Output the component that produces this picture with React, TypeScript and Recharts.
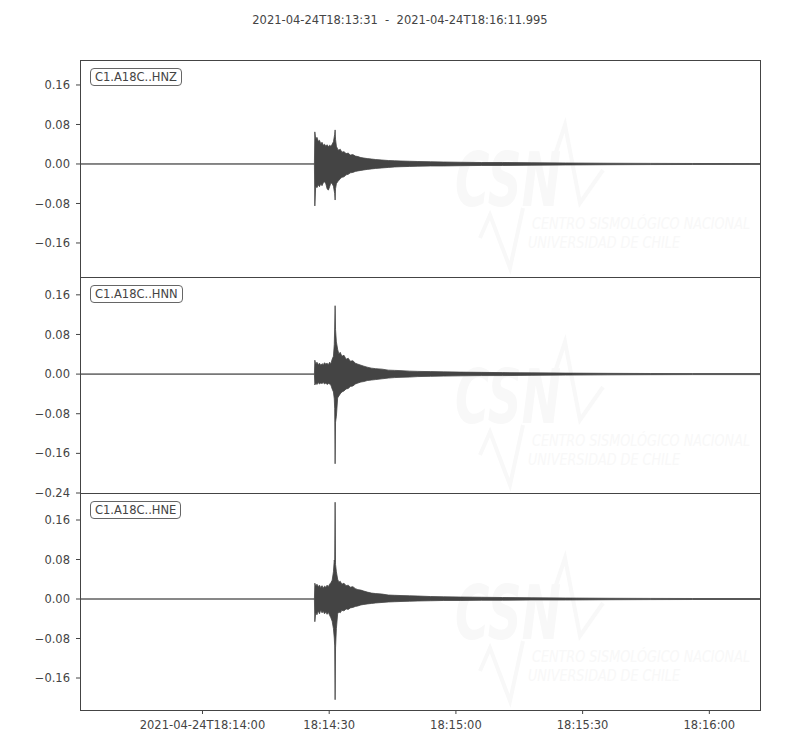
import React from "react";
import { Area, ComposedChart, XAxis, YAxis } from "recharts";

// seconds after 2021-04-24T18:13:31
const times = [
  0, 55.5, 55.6, 55.8, 56.1, 56.4, 56.7, 57.0, 57.3, 57.6, 57.9, 58.2, 58.5,
  58.8, 59.1, 59.4, 59.7, 60.0, 60.2, 60.3, 60.4, 60.5, 60.7, 61.0, 61.3, 61.6,
  62.0, 62.5, 63.0, 63.5, 64.0, 64.6, 65.2, 65.8, 66.5, 67.2, 68.0, 69.0, 70.0,
  71.5, 73.0, 74.5, 76.0, 78.0, 80.0, 83.0, 86.0, 90.0, 95.0, 100, 107, 115,
  125, 135, 145, 160.995,
];

const hnzHi = [
  0, 0, 0.065, 0.05, 0.054, 0.046, 0.048, 0.041, 0.044, 0.038, 0.04, 0.036,
  0.039, 0.035, 0.038, 0.036, 0.04, 0.045, 0.055, 0.06, 0.069, 0.05, 0.036,
  0.03, 0.028, 0.03, 0.024, 0.025, 0.021, 0.022, 0.018, 0.019, 0.016, 0.015,
  0.013, 0.012, 0.011, 0.01, 0.009, 0.008, 0.007, 0.0065, 0.006, 0.0055, 0.005,
  0.0045, 0.004, 0.0035, 0.003, 0.003, 0.0025, 0.002, 0.0015, 0.0012, 0.001,
  0.0008,
];
const hnzLo = [
  0, 0, -0.085, -0.045, -0.048, -0.042, -0.046, -0.04, -0.044, -0.038, -0.036,
  -0.04, -0.05, -0.053, -0.046, -0.038, -0.04, -0.045, -0.055, -0.06, -0.073,
  -0.05, -0.04, -0.036, -0.033, -0.03, -0.027, -0.026, -0.022, -0.021, -0.018,
  -0.017, -0.015, -0.014, -0.013, -0.012, -0.011, -0.01, -0.009, -0.008,
  -0.007, -0.006, -0.0055, -0.005, -0.0045, -0.004, -0.004, -0.0035, -0.003,
  -0.003, -0.0025, -0.002, -0.0015, -0.0012, -0.001, -0.0008,
];

const hnnHi = [
  0, 0, 0.028, 0.02, 0.024, 0.019, 0.022, 0.018, 0.021, 0.019, 0.023, 0.02,
  0.022, 0.019, 0.024, 0.021, 0.03, 0.036, 0.06, 0.095, 0.138, 0.09, 0.065,
  0.05, 0.04, 0.044, 0.036, 0.038, 0.03, 0.032, 0.026, 0.027, 0.022, 0.02,
  0.018, 0.016, 0.014, 0.012, 0.011, 0.01, 0.008, 0.0075, 0.007, 0.006, 0.0055,
  0.005, 0.0045, 0.004, 0.0035, 0.003, 0.0025, 0.002, 0.0015, 0.0012, 0.001,
  0.001,
];
const hnnLo = [
  0, 0, -0.022, -0.018, -0.021, -0.017, -0.02, -0.018, -0.019, -0.017, -0.02,
  -0.018, -0.021, -0.019, -0.02, -0.022, -0.03, -0.036, -0.05, -0.07, -0.181,
  -0.097, -0.085, -0.048, -0.044, -0.04, -0.036, -0.034, -0.03, -0.029, -0.025,
  -0.024, -0.02, -0.018, -0.016, -0.015, -0.013, -0.012, -0.011, -0.0095,
  -0.008, -0.007, -0.0065, -0.006, -0.005, -0.0045, -0.004, -0.0035, -0.003,
  -0.003, -0.0025, -0.002, -0.0015, -0.0012, -0.001, -0.001,
];

const hneHi = [
  0, 0, 0.032, 0.026, 0.03, 0.025, 0.028, 0.023, 0.027, 0.022, 0.026, 0.024,
  0.028, 0.025, 0.03, 0.033, 0.038, 0.055, 0.079, 0.075, 0.196, 0.07, 0.055,
  0.04, 0.034, 0.036, 0.03, 0.032, 0.027, 0.028, 0.024, 0.025, 0.021, 0.019,
  0.018, 0.016, 0.014, 0.012, 0.011, 0.01, 0.008, 0.0075, 0.007, 0.0065, 0.006,
  0.005, 0.0045, 0.004, 0.0035, 0.003, 0.0025, 0.002, 0.0015, 0.0012, 0.001,
  0.001,
];
const hneLo = [
  0, 0, -0.046, -0.028, -0.032, -0.024, -0.03, -0.022, -0.028, -0.025, -0.03,
  -0.026, -0.031, -0.027, -0.033, -0.038, -0.045, -0.06, -0.079, -0.095,
  -0.204, -0.099, -0.06, -0.03, -0.026, -0.028, -0.023, -0.024, -0.02, -0.021,
  -0.018, -0.017, -0.015, -0.014, -0.012, -0.011, -0.01, -0.009, -0.008,
  -0.007, -0.006, -0.0055, -0.005, -0.0045, -0.004, -0.0035, -0.003, -0.003,
  -0.0025, -0.0025, -0.002, -0.002, -0.0015, -0.0012, -0.001, -0.001,
];

const channels = ["C1.A18C..HNZ", "C1.A18C..HNN", "C1.A18C..HNE"];
const xTicks = [29, 59, 89, 119, 149];
const xTickLabels = [
  "2021-04-24T18:14:00",
  "18:14:30",
  "18:15:00",
  "18:15:30",
  "18:16:00",
];
const yTicksA = [-0.16, -0.08, 0, 0.08, 0.16];
const yTicksB = [-0.24, -0.16, -0.08, 0, 0.08, 0.16];

const FONT = "'DejaVu Sans', sans-serif";
const INK = "#444";
const FS = 11.5;

const fmtY = (v: number) =>
  v < 0 ? "\u2212" + Math.abs(v).toFixed(2) : v.toFixed(2);

const build = (hi: number[], lo: number[]) =>
  times.map((t, i) => ({ t, range: [lo[i], hi[i]] }));

function Watermark({ top }: { top: number }) {
  const c = "#f8f8f8";
  return (
    <svg
      width={340}
      height={160}
      style={{
        position: "absolute",
        left: 430,
        top,
        pointerEvents: "none",
        overflow: "visible",
      }}
    >
      <g transform="translate(10,0)">
        <text
          x={15}
          y={86}
          fontSize={74}
          fontWeight="bold"
          fontStyle="italic"
          fill={c}
          fontFamily={FONT}
          textLength={106}
          lengthAdjust="spacingAndGlyphs"
        >
          CSN
        </text>
        <polyline
          points="115,35 125,5 140,83 163,50"
          fill="none"
          stroke={c}
          strokeWidth={4}
        />
        <polyline
          points="40,118 50,95 70,148 83,88"
          fill="none"
          stroke={c}
          strokeWidth={4}
        />
        <text
          x={92}
          y={109}
          fontSize={16}
          fontStyle="italic"
          fill={c}
          fontFamily={FONT}
          textLength={218}
          lengthAdjust="spacingAndGlyphs"
        >
          CENTRO SISMOLÓGICO NACIONAL
        </text>
        <text
          x={88}
          y={128}
          fontSize={16}
          fontStyle="italic"
          fill={c}
          fontFamily={FONT}
          textLength={152}
          lengthAdjust="spacingAndGlyphs"
        >
          UNIVERSIDAD DE CHILE
        </text>
      </g>
    </svg>
  );
}

function Panel({
  top,
  plotHeight,
  hi,
  lo,
  domain,
  yTicks,
  label,
  showX,
}: {
  top: number;
  plotHeight: number;
  hi: number[];
  lo: number[];
  domain: [number, number];
  yTicks: number[];
  label: string;
  showX: boolean;
}) {
  const xh = showX ? 40 : 0;
  const pad = showX ? 0 : 10;
  return (
    <>
      <Watermark top={top + 60} />
      <div style={{ position: "absolute", left: 0, top }}>
        <ComposedChart
          width={800}
          height={plotHeight + xh + pad}
          data={build(hi, lo)}
          margin={{ top: 0, right: 40, bottom: pad, left: 0 }}
        >
          <XAxis
            type="number"
            dataKey="t"
            domain={[0, 160.995]}
            allowDataOverflow
            ticks={xTicks}
            interval={0}
            hide={!showX}
            height={xh}
            axisLine={false}
            tickSize={4}
            tickMargin={7}
            tickLine={{ stroke: INK }}
            tick={{ fill: INK, fontSize: FS, fontFamily: FONT }}
            tickFormatter={(v: number) => xTickLabels[xTicks.indexOf(v)]}
          />
          <YAxis
            type="number"
            width={80}
            domain={domain}
            allowDataOverflow
            ticks={yTicks}
            interval={0}
            axisLine={false}
            tickSize={4}
            tickMargin={6}
            tickLine={{ stroke: INK }}
            tick={{ fill: INK, fontSize: FS, fontFamily: FONT }}
            tickFormatter={fmtY}
          />
          <Area
            type="linear"
            dataKey="range"
            stroke={INK}
            strokeWidth={0.8}
            fill={INK}
            fillOpacity={1}
            dot={false}
            activeDot={false}
            isAnimationActive={false}
          />
        </ComposedChart>
      </div>
      <div
        style={{
          position: "absolute",
          left: 80,
          top,
          width: 681,
          height: plotHeight + 1,
          border: `1px solid ${INK}`,
          boxSizing: "border-box",
          pointerEvents: "none",
        }}
      />
      <div
        style={{
          position: "absolute",
          left: 90,
          top: top + 8,
          border: "1px solid #666",
          borderRadius: 4,
          padding: "1px 4px",
          background: "#fff",
          color: INK,
          fontSize: FS,
          fontFamily: FONT,
          lineHeight: "14px",
        }}
      >
        {label}
      </div>
    </>
  );
}

export default function App() {
  return (
    <div
      style={{
        position: "absolute",
        left: 0,
        top: 0,
        width: 800,
        height: 750,
        background: "#fff",
        fontFamily: FONT,
      }}
    >
      <div
        style={{
          position: "absolute",
          top: 13,
          width: 800,
          textAlign: "center",
          fontSize: FS,
          color: INK,
          whiteSpace: "pre",
        }}
      >
        {"2021-04-24T18:13:31  -  2021-04-24T18:16:11.995"}
      </div>
      <Panel
        top={60}
        plotHeight={217}
        hi={hnzHi}
        lo={hnzLo}
        domain={[-0.2289, 0.2106]}
        yTicks={yTicksA}
        label={channels[0]}
        showX={false}
      />
      <Panel
        top={277}
        plotHeight={216}
        hi={hnnHi}
        lo={hnnLo}
        domain={[-0.24, 0.196]}
        yTicks={yTicksB}
        label={channels[1]}
        showX={false}
      />
      <Panel
        top={493}
        plotHeight={217}
        hi={hneHi}
        lo={hneLo}
        domain={[-0.2248, 0.2147]}
        yTicks={yTicksA}
        label={channels[2]}
        showX={true}
      />
    </div>
  );
}
